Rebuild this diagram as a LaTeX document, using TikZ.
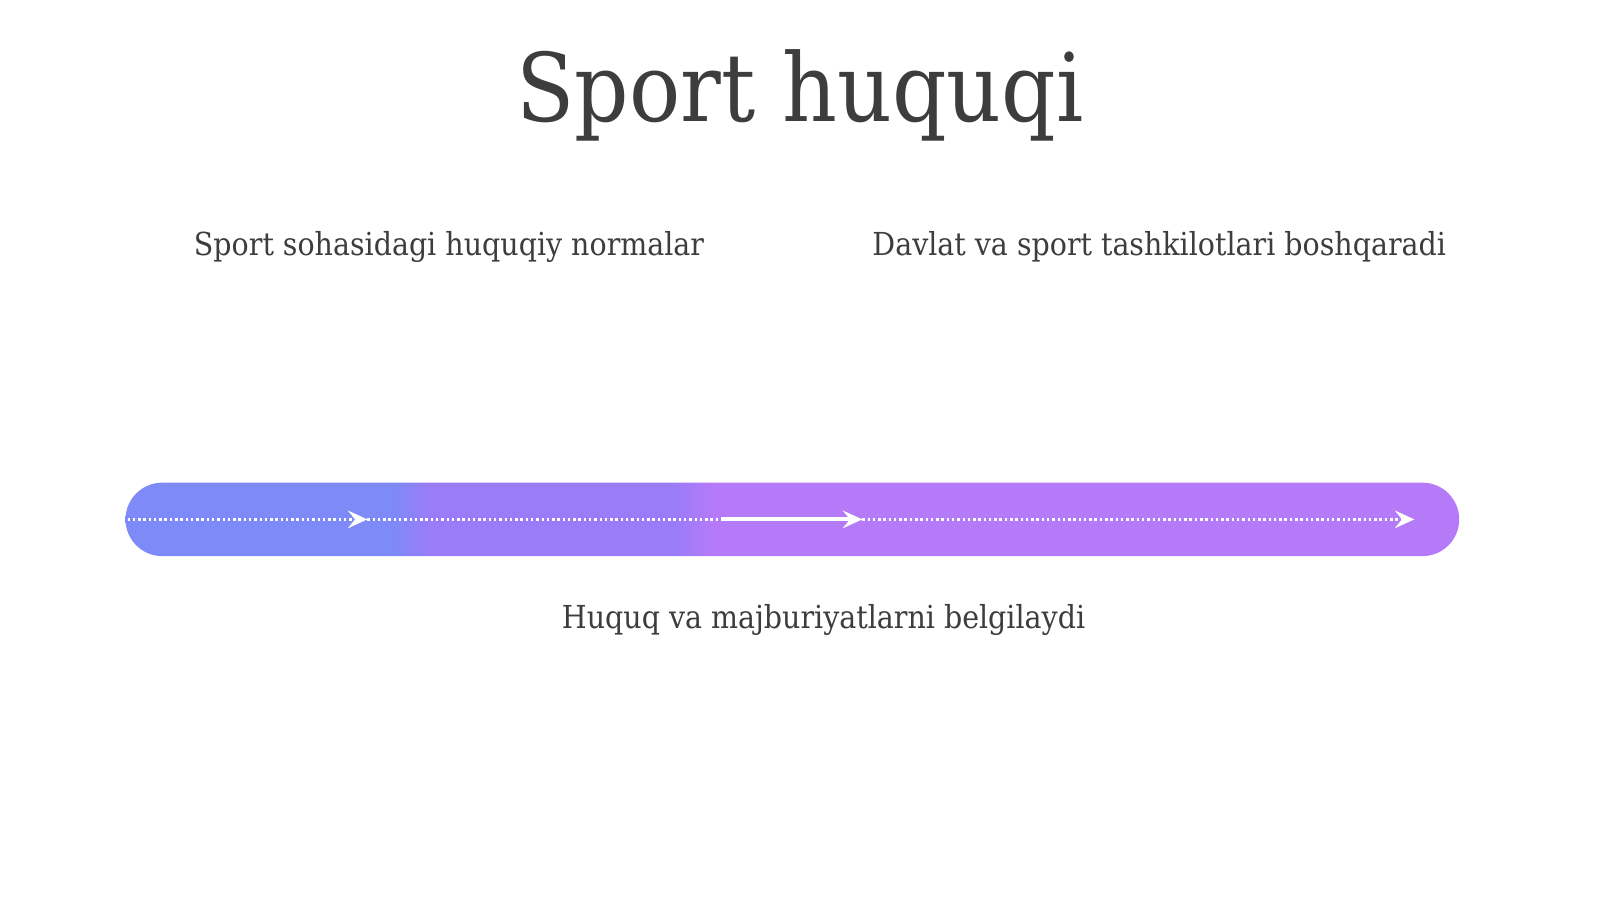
\documentclass[tikz,border=0pt]{standalone}
\usepackage{fontspec}
\setmainfont{DejaVu Serif Condensed}
\usepackage{xcolor}
\usepackage{tikz}
\usetikzlibrary{positioning}
\usetikzlibrary{arrows.meta}

\definecolor{inkgray}{HTML}{3D3D3D}
\definecolor{barA}{HTML}{7D8AF7}
\definecolor{barB}{HTML}{9A7CF8}
\definecolor{barC}{HTML}{B57AF8}

% bar: box runs from 25bp to 75bp of the shading
\pgfdeclarehorizontalshading{barshade}{100bp}{%
	color(0bp)=(barA); color(35bp)=(barA); color(36.4bp)=(barB);
	color(45.6bp)=(barB); color(47bp)=(barC); color(100bp)=(barC)}

\begin{document}
\begin{tikzpicture}[x=0.0102cm,y=-0.0102cm,
		every node/.style={text=inkgray},
		flow/.style={white,line width=1.1pt},
		dots/.style={white,line width=1pt,dash pattern=on 0.7pt off 0.8pt},
		tip/.style={-{Stealth[length=5.5pt,width=5pt,inset=2pt]}}]
	\useasboundingbox (0,0) rectangle (1568,881);
	\node (title) at (784,93) {\fontsize{26.9}{32}\selectfont Sport huquqi};
	\node (normal) at (440,242) {\fontsize{9}{11}\selectfont Sport sohasidagi huquqiy normalar};
	\node (davlat) at (1136,242) {\fontsize{9}{11}\selectfont Davlat va sport tashkilotlari boshqaradi};
	% the bar
	\shade[shading=barshade,rounded corners=0.367cm] (123,473) rectangle (1430,545);
	\coordinate (p0) at (125,509);
	\coordinate (p1) at (360,509);
	\coordinate (p2) at (707,509);
	\coordinate (p3) at (845,509);
	\coordinate (p4) at (1386,509);
	\draw[dots,tip] (p0) -- (p1);
	\draw[dots] (p1) -- (p2);
	\draw[flow,tip] (p2) -- (p3);
	\draw[dots,tip] (p3) -- (p4);
	\node (huquq) at (807,608) {\fontsize{9}{11}\selectfont Huquq va majburiyatlarni belgilaydi};
\end{tikzpicture}
\end{document}
